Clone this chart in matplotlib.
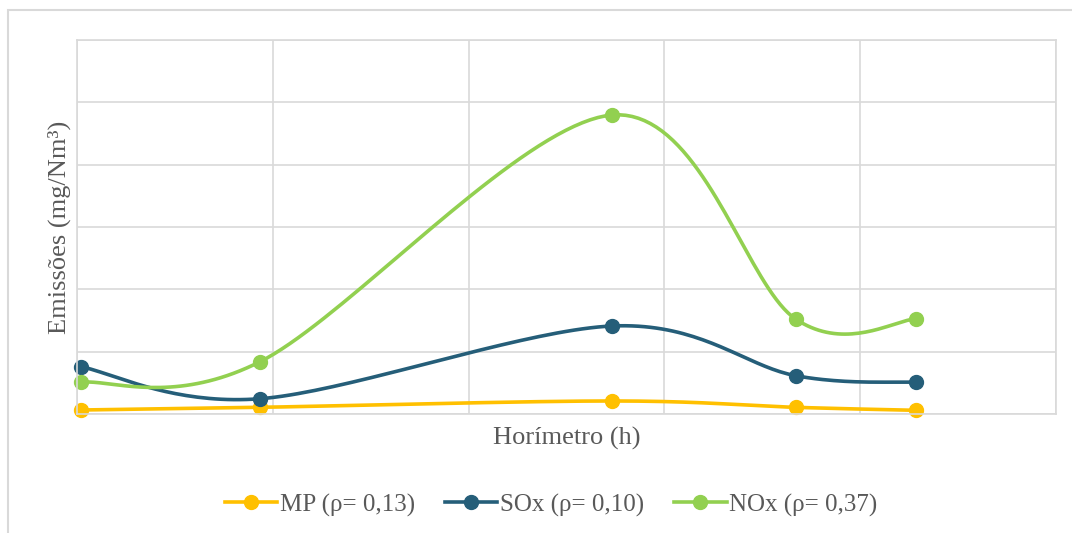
import numpy as np
import matplotlib
matplotlib.use("Agg")
import matplotlib.pyplot as plt
from matplotlib.patches import Rectangle
from matplotlib.lines import Line2D

# Data (x in grid units of the horizontal axis, y in grid units of vertical axis)
x_vals = [0.019, 0.935, 2.734, 3.67, 4.285]
mp = [0.064, 0.107, 0.209, 0.107, 0.059]
sox = [0.759, 0.245, 1.412, 0.615, 0.509]
nox = [0.509, 0.839, 4.797, 1.524, 1.524]
labels = ["MP (\u03c1= 0,13)", "SOx (\u03c1= 0,10)", "NOx (\u03c1= 0,37)"]
colors = ["#FFC000", "#255E79", "#92D050"]

plt.rcParams['font.family'] = ['Liberation Serif', 'DejaVu Serif']


def smooth(xs, ys, n=40):
    p = np.column_stack([xs, ys]).astype(float)
    out = []
    m = len(p)
    for i in range(m - 1):
        p0 = p[i - 1] if i > 0 else p[i]
        p1 = p[i]
        p2 = p[i + 1]
        p3 = p[i + 2] if i + 2 < m else p[i + 1]
        c1 = p1 + (p2 - p0) / 6.0
        c2 = p2 - (p3 - p1) / 6.0
        t = np.linspace(0, 1, n)[:, None]
        seg = ((1 - t) ** 3) * p1 + 3 * ((1 - t) ** 2) * t * c1 + 3 * (1 - t) * t ** 2 * c2 + t ** 3 * p2
        out.append(seg if i == 0 else seg[1:])
    s = np.vstack(out)
    return s[:, 0], s[:, 1]


fig = plt.figure(figsize=(10.72, 5.33), dpi=100)
# chart frame (clipped at right/bottom)
fig.patches.append(Rectangle((8 / 1072, -0.1), 1.2, (533 - 10) / 533 + 0.1,
                             transform=fig.transFigure, fill=False,
                             edgecolor="#D9D9D9", linewidth=1.5))
ax = fig.add_axes([77 / 1072, (533 - 414) / 533, (1056 - 77) / 1072, (414 - 40) / 533])
ax.set_xlim(0, 5)
ax.set_ylim(0, 6)
ax.set_xticks(range(6))
ax.set_yticks(range(7))
ax.tick_params(length=0, labelbottom=False, labelleft=False)
ax.grid(True, color="#D9D9D9", linewidth=1.2)
for s in ax.spines.values():
    s.set_color("#D9D9D9")
    s.set_linewidth(1.2)
ax.set_axisbelow(True)

handles = []
for ys, c, lab in zip([mp, sox, nox], colors, labels):
    sx, sy = smooth(x_vals, ys)
    ax.plot(sx, sy, color=c, linewidth=2.6, solid_capstyle='round', clip_on=False)
    ax.plot(x_vals, ys, 'o', color=c, markersize=10, clip_on=False)
    handles.append(Line2D([], [], color=c, linewidth=2.6, marker='o', markersize=10))

ax.set_xlabel("Horímetro (h)", fontsize=19, color="#595959", labelpad=9)
ax.set_ylabel("Emissões (mg/Nm³)", fontsize=19, color="#595959", labelpad=4)

fig.legend(handles, labels, loc='center', bbox_to_anchor=(551 / 1072, (533 - 505) / 533),
           ncol=3, frameon=False, fontsize=18, labelcolor="#595959",
           handlelength=2.1, handletextpad=0.1, columnspacing=1.2)

fig.savefig("out.png", dpi=100)
